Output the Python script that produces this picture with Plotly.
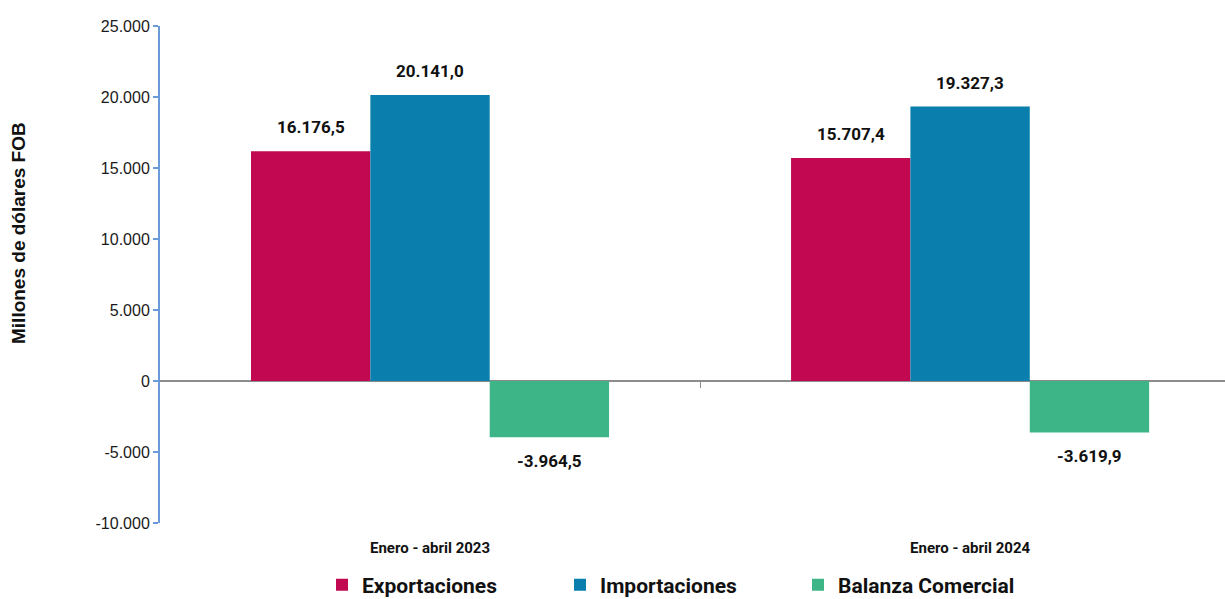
import plotly.graph_objects as go

categories = ["Enero - abril 2023", "Enero - abril 2024"]
exportaciones = [16176.5, 15707.4]
importaciones = [20141.0, 19327.3]
balanza = [-3964.5, -3619.9]
series_names = ["Exportaciones", "Importaciones", "Balanza Comercial"]
series_colors = ["#C10850", "#0A7FAD", "#3DB586"]
ytick_vals = [-10000, -5000, 0, 5000, 10000, 15000, 20000, 25000]
ytick_text = ["-10.000", "-5.000", "0", "5.000", "10.000", "15.000", "20.000", "25.000"]
y_title = "Millones de dólares FOB"

NARROW = "Roboto, sans-serif"
ARIAL = "Liberation Sans, Arial, sans-serif"
BARGAP = 0.337
YMIN, YMAX = -10000, 25000


def fmt(v):
    return f"{v:,.1f}".replace(",", "X").replace(".", ",").replace("X", ".")


fig = go.Figure()
all_series = [exportaciones, importaciones, balanza]
n = len(all_series)
bar_w = (1 - BARGAP) / n
for k, (name, vals, col) in enumerate(zip(series_names, all_series, series_colors)):
    fig.add_trace(go.Bar(
        x=list(range(len(categories))), y=vals, name=name,
        marker=dict(color=col, line=dict(width=0)),
    ))
    off = (k - (n - 1) / 2) * bar_w
    for i, v in enumerate(vals):
        fig.add_annotation(
            x=i + off, y=v, xref="x", yref="y", text=fmt(v), showarrow=False,
            yanchor="bottom" if v >= 0 else "top",
            yshift=12 if v >= 0 else -12,
            font=dict(family=NARROW, size=17, color="#111111", weight="bold"),
        )

# y-axis title as annotation
fig.add_annotation(
    x=(18 - 160) / (1225 - 160), xref="paper", xanchor="center",
    y=0.5835, yref="paper", yanchor="middle",
    text=y_title, textangle=-90, showarrow=False,
    font=dict(family=ARIAL, size=19, color="#111111", weight="bold"),
)

fig.update_layout(
    width=1225, height=599,
    barmode="group", bargap=BARGAP, bargroupgap=0,
    plot_bgcolor="white", paper_bgcolor="white",
    margin=dict(l=160, r=0, t=26, b=76),
    showlegend=True,
    legend=dict(
        orientation="h", xref="container", yref="container",
        x=322 / 1225, xanchor="left", y=14 / 599, yanchor="middle",
        entrywidth=193, entrywidthmode="pixels",
        font=dict(family=NARROW, size=21, color="#111111", weight="bold"),
        itemsizing="constant", traceorder="normal",
    ),
    xaxis=dict(
        range=[-0.5, 1.472], showline=False, ticks="", showgrid=False, zeroline=False,
        tickvals=list(range(len(categories))), ticktext=categories,
        tickfont=dict(family=NARROW, size=15, color="#111111", weight="bold"),
        ticklabelstandoff=14,
    ),
    xaxis2=dict(
        range=[-0.5, 1.472], overlaying="x", anchor="free",
        position=(0 - YMIN) / (YMAX - YMIN), side="bottom",
        showline=False, showgrid=False, zeroline=False,
        tickvals=[0.5], showticklabels=False,
        ticks="outside", ticklen=6, tickcolor="#8C8C8C", tickwidth=1,
    ),
    yaxis=dict(
        range=[YMIN, YMAX], tickvals=ytick_vals, ticktext=ytick_text,
        showgrid=False, showline=True, linecolor="#6A9BD8", linewidth=2,
        ticks="outside", ticklen=5, tickcolor="#6A9BD8", tickwidth=2,
        zeroline=True, zerolinecolor="#8C8C8C", zerolinewidth=2,
        tickfont=dict(family=ARIAL, size=16, color="#1A1A1A"),
    ),
)
# invisible trace to display xaxis2 ticks
fig.add_trace(go.Scatter(x=[0.5], y=[0], xaxis="x2", mode="markers",
                         marker=dict(opacity=0), showlegend=False, hoverinfo="skip"))

fig.write_html("out.html")
